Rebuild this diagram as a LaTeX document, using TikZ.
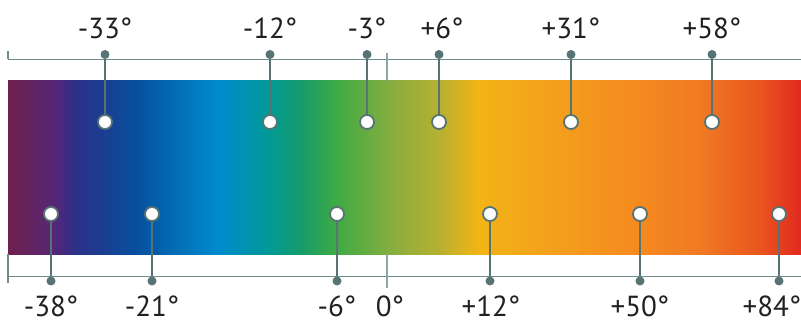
\documentclass[tikz,border=0pt]{standalone}
\usepackage{fontspec}
\setmainfont{PT Sans}
\definecolor{pinc}{HTML}{587374}
\definecolor{linec}{HTML}{6F8C8C}
\definecolor{tickc}{HTML}{8FA5A5}
\definecolor{txt}{HTML}{231F20}
\definecolor{ca}{HTML}{70204C}
\definecolor{cb}{HTML}{552777}
\definecolor{cc}{HTML}{2E2F89}
\definecolor{cd}{HTML}{064F9D}
\definecolor{ce}{HTML}{008BCF}
\definecolor{cf}{HTML}{00999A}
\definecolor{cg}{HTML}{159C6C}
\definecolor{ch}{HTML}{3DAA45}
\definecolor{ci}{HTML}{8BAE3E}
\definecolor{cj}{HTML}{B8B030}
\definecolor{ck}{HTML}{F2B415}
\definecolor{cl}{HTML}{F3A41B}
\definecolor{cm}{HTML}{F58A1F}
\definecolor{cn}{HTML}{F07A22}
\definecolor{co}{HTML}{E9551F}
\definecolor{cp}{HTML}{E2291F}
\pgfdeclarehorizontalshading{thermo}{100bp}{color(0bp)=(ca); color(25bp)=(ca); color(27.96bp)=(cb); color(29.22bp)=(cc); color(33.01bp)=(cd); color(38.24bp)=(ce); color(41.20bp)=(cf); color(43.41bp)=(cg); color(45.62bp)=(ch); color(49.40bp)=(ci); color(52.24bp)=(cj); color(54.63bp)=(ck); color(58.23bp)=(cl); color(64.85bp)=(cm); color(68.63bp)=(cn); color(72.41bp)=(co); color(75bp)=(cp); color(100bp)=(cp)}
\tikzset{
  dotnode/.style={circle, fill=pinc, inner sep=0pt, minimum size=9pt},
  ringnode/.style={circle, fill=white, draw=pinc, line width=1.8pt, inner sep=0pt, minimum size=14pt},
  pinline/.style={draw=pinc, line width=1.8pt},
  axisline/.style={draw=linec, line width=1.1pt},
  zerotick/.style={draw=tickc, line width=1.1pt},
  lab/.style={text=txt, font=\fontsize{29}{32}\selectfont, inner sep=0pt, anchor=base},
}
\begin{document}
\begin{tikzpicture}[x=1pt, y=-1pt]
\useasboundingbox (0,0) rectangle (801,320);
% gradient bar
\shade[shading=thermo] (8,80.7) rectangle (801,254.3);
% axis lines
\coordinate (tl) at (8,59.5);
\coordinate (tr) at (801,59.5);
\coordinate (bl) at (8,276.7);
\coordinate (br) at (801,276.7);
\draw[axisline] (tl) -- (tr);
\draw[axisline] (bl) -- (br);
\coordinate (tlu) at (8,51);
\coordinate (blb) at (8,254.3);
\coordinate (bld) at (8,283);
\draw[axisline] (tlu) -- (tl);
\draw[axisline] (blb) -- (bld);
% zero ticks
\coordinate (z1) at (387,52.7);
\coordinate (z2) at (387,80.7);
\coordinate (z3) at (387,254.3);
\coordinate (z4) at (387,288.3);
\draw[zerotick] (z1) -- (z2);
\draw[zerotick] (z3) -- (z4);
% top pins
\foreach \px/\lx/\v [count=\i] in {105/105/-33, 270/270/-12, 367/367/-3, 439/442/+6, 571/571/+31, 712/712/+58}{
  \node[dotnode] (td\i) at (\px,54.5) {};
  \node[ringnode] (tr\i) at (\px,122) {};
  \draw[pinline] (td\i) -- (tr\i);
  \node[lab] (tt\i) at (\lx,39) {\v°};
}
% bottom pins
\foreach \px/\lx/\v [count=\i] in {51/51/-38, 152/152/-21, 337/337/-6, 490/491/+12, 640/640/+50, 779/772/+84}{
  \node[ringnode] (br\i) at (\px,214) {};
  \node[dotnode] (bd\i) at (\px,281) {};
  \draw[pinline] (br\i) -- (bd\i);
  \node[lab] (bt\i) at (\lx,317) {\v°};
}
\node[lab] (zt) at (390,317) {0°};
\end{tikzpicture}
\end{document}
